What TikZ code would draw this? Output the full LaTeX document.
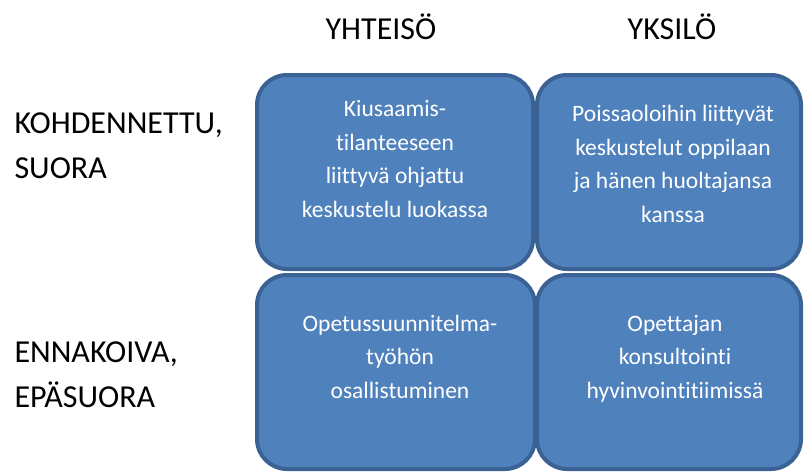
\documentclass[tikz,border=0pt]{standalone}
\usepackage{fontspec}
\setmainfont{Carlito}[Ligatures={NoCommon}]
\usepackage{tikz}
\usetikzlibrary{positioning}
\definecolor{boxfill}{HTML}{4F81BD}
\definecolor{boxline}{HTML}{3B6294}

\begin{document}
\begin{tikzpicture}[x=1pt,y=-1pt,
    cell/.style={draw=boxline,line width=4pt,fill=boxfill,rounded corners=30pt,minimum height=194pt},
    celltext/.style={text=white,align=center,anchor=base,font=\fontsize{23.5}{33.5}\selectfont},
    head/.style={align=left,anchor=base west,font=\fontsize{32}{44.5}\selectfont}]
    \useasboundingbox (0,0) rectangle (805,471);
    % column and row titles
    \node[anchor=base,font=\fontsize{32}{38}\selectfont] (yhteiso) at (381,39) {YHTEISÖ};
    \node[anchor=base,font=\fontsize{32}{38}\selectfont] (yksilo) at (672,39) {YKSILÖ};
    \node[head] (kohd) at (11,178) {KOHDENNETTU,\\SUORA};
    \node[head] (ennak) at (11,407) {ENNAKOIVA,\\EPÄSUORA};
    % the four cells
    \node[cell,minimum width=276pt] (c11) at (395,172) {};
    \node[cell,minimum width=264pt] (c12) at (669,172) {};
    \node[cell,minimum width=278pt] (c21) at (396,372) {};
    \node[cell,minimum width=264pt] (c22) at (669,372) {};
    % texts sit on the baseline of their last line
    \node[celltext] at (395,217) {Kiusaamis-\\tilanteeseen\\liittyvä ohjattu\\keskustelu luokassa};
    \node[celltext] at (673,222) {Poissaoloihin liittyvät\\keskustelut oppilaan\\ja hänen huoltajansa\\kanssa};
    \node[celltext] at (400,398) {Opetussuunnitelma-\\työhön\\osallistuminen};
    \node[celltext] at (675,398) {Opettajan\\konsultointi\\hyvinvointitiimissä};
\end{tikzpicture}
\end{document}
